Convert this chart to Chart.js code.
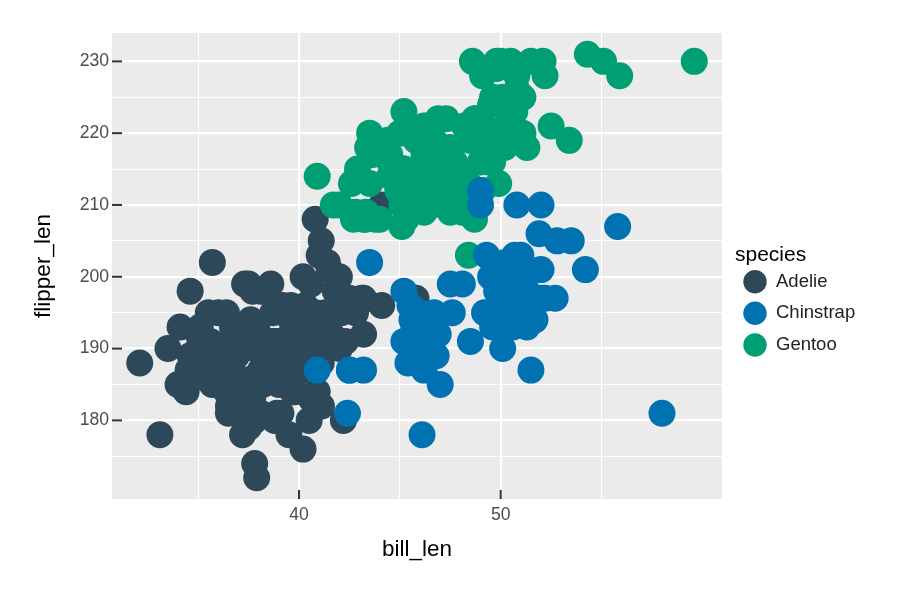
<!DOCTYPE html>
<html><head><meta charset="utf-8">
<script src="https://cdn.jsdelivr.net/npm/chart.js@4.4.1/dist/chart.umd.min.js"></script>
<style>html,body{margin:0;padding:0;background:#fff}</style>
</head><body>
<canvas id="c" width="900" height="600"></canvas>
<script>
const speciesNames = ['Adelie', 'Chinstrap', 'Gentoo'];
const speciesColors = ['#2d4858', '#0072b2', '#009e73'];

const adelieBill = [39.1,39.5,40.3,36.7,39.3,38.9,39.2,34.1,42,37.8,37.8,41.1,38.6,34.6,36.6,38.7,42.5,34.4,46,37.8,37.7,35.9,38.2,38.8,35.3,40.6,40.5,37.9,40.5,39.5,37.2,39.5,40.9,36.4,39.2,38.8,42.2,37.6,39.8,36.5,40.8,36,44.1,37,39.6,41.1,37.5,36,42.3,39.6,40.1,35,42,34.5,41.4,39,40.6,36.5,37.6,35.7,41.3,37.6,41.1,36.4,41.6,35.5,41.1,35.9,41.8,33.5,39.7,39.6,45.8,35.5,42.8,40.9,37.2,36.2,42.1,34.6,42.9,36.7,35.1,37.3,41.3,36.3,36.9,38.3,38.9,35.7,41.1,34,39.6,36.2,40.8,38.1,40.3,33.1,43.2,35,41,37.7,37.8,37.9,39.7,38.6,38.2,38.1,43.2,38.1,45.6,39.7,42.2,39.6,42.7,38.6,37.3,35.7,41.1,36.2,37.7,40.2,41.4,35.2,40.6,38.8,41.5,39,44.1,38.5,43.1,36.8,37.5,38.1,41.1,35.6,40.2,37,39.7,40.2,40.6,32.1,40.7,37.3,39,39.2,36.6,36,37.8,36,41.5];
const adelieFlipper = [181,186,195,193,190,181,195,193,190,186,180,182,191,198,185,195,197,184,194,174,180,189,185,180,187,183,187,172,180,178,178,188,184,195,196,190,180,181,184,182,195,186,196,185,190,182,179,190,191,186,188,190,200,187,191,186,193,181,194,185,195,185,192,184,192,195,188,190,198,190,190,196,197,190,195,191,184,187,195,189,196,187,193,191,194,190,189,189,190,202,205,185,186,187,208,190,196,178,192,192,203,183,190,193,184,199,190,181,197,198,191,193,197,191,196,188,199,189,189,187,198,176,202,186,199,191,195,191,210,190,197,193,199,187,190,191,200,185,193,193,187,188,190,192,185,190,184,195,193,187,201];

const chinstrapBill = [46.5,50,51.3,45.4,52.7,45.2,46.1,51.3,46,51.3,46.6,51.7,47,52,45.9,50.5,50.3,58,46.4,49.2,42.4,48.5,43.2,50.6,46.7,52,50.5,49.5,46.4,52.8,40.9,54.2,42.5,51,49.7,47.5,47.6,52,46.9,53.5,49,46.2,50.9,45.5,50.9,50.8,50.1,49,51.5,49.8,48.1,51.4,45.7,50.7,42.5,52.2,45.2,49.3,50.2,45.6,51.9,46.8,45.7,55.8,43.5,49.6,50.8,50.2];
const chinstrapFlipper = [192,196,193,188,197,198,178,197,195,198,193,194,185,201,190,201,197,181,190,195,181,191,187,193,195,197,200,200,191,205,187,201,187,203,195,199,195,210,192,205,210,187,196,196,196,201,190,212,187,198,199,201,193,203,187,197,191,203,202,194,206,189,195,207,202,193,210,198];

const gentooBill = [46.1,50,48.7,50,47.6,46.5,45.4,46.7,43.3,46.8,40.9,49,45.5,48.4,45.8,49.3,42,49.2,46.2,48.7,50.2,45.1,46.5,46.3,42.9,46.1,44.5,47.8,48.2,50,47.3,42.8,45.1,59.6,49.1,48.4,42.6,44.4,44,48.7,42.7,49.6,45.3,49.6,50.5,43.6,45.5,50.5,44.9,45.2,46.6,48.5,45.1,50.1,46.5,45,43.8,45.5,43.2,50.4,45.3,46.2,45.7,54.3,45.8,49.8,46.2,49.5,43.5,50.7,47.7,46.4,48.2,46.5,46.4,48.6,47.5,51.1,45.2,45.2,49.1,52.5,47.4,50,44.9,50.8,43.4,51.3,47.5,52.1,47.5,52.2,45.5,49.5,44.5,50.8,49.4,46.9,48.4,51.1,48.5,55.9,47.2,49.1,47.3,46.8,41.7,53.4,43.3,48.1,50.5,49.8,43.5,51.5,46.2,55.1,44.5,48.8,47.2,46.8,50.4,45.2,49.9];
const gentooFlipper = [211,230,210,218,215,210,211,219,209,215,214,216,214,213,210,217,210,221,209,222,218,215,213,215,215,215,216,215,210,220,222,209,207,230,220,220,213,219,208,208,208,225,210,216,222,217,210,225,213,215,210,220,210,225,217,220,208,220,208,224,208,221,214,231,219,230,214,229,220,223,216,221,221,217,216,230,209,220,215,223,212,221,212,224,212,228,218,218,212,230,218,228,212,224,214,226,216,222,203,225,219,228,215,228,216,215,210,219,208,209,230,229,213,230,217,230,217,222,214,215,222,212,213];

const xLimits = [30.725, 60.975];
const yLimits = [169.05, 233.95];
const xMajorTicks = [40, 50];
const xMinorTicks = [35, 45, 55];
const yMajorTicks = [180, 190, 200, 210, 220, 230];
const yMinorTicks = [175, 185, 195, 205, 215, 225];

function pts(xs, ys) { return xs.map((v, i) => ({ x: v, y: ys[i] })); }

const FONT = "'Liberation Sans', Arial, Helvetica, sans-serif";

const panelPlugin = {
  id: 'panel',
  beforeDraw(chart) {
    const { ctx, chartArea: a } = chart;
    ctx.save();
    ctx.fillStyle = '#ebebeb';
    ctx.fillRect(a.left, a.top, a.right - a.left, a.bottom - a.top);
    ctx.restore();
  },
  afterDraw(chart) {
    const { ctx, chartArea: a } = chart;
    const xs = chart.scales.x, ys = chart.scales.y;
    ctx.save();
    ctx.strokeStyle = '#333333';
    ctx.lineWidth = 2;
    xMajorTicks.forEach(v => {
      const p = xs.getPixelForValue(v);
      ctx.beginPath(); ctx.moveTo(p, a.bottom); ctx.lineTo(p, a.bottom - 9); ctx.stroke();
    });
    yMajorTicks.forEach(v => {
      const p = ys.getPixelForValue(v);
      ctx.beginPath(); ctx.moveTo(a.left, p); ctx.lineTo(a.left + 10, p); ctx.stroke();
    });
    // legend
    ctx.fillStyle = '#000';
    ctx.font = '21px ' + FONT;
    ctx.textAlign = 'left';
    ctx.textBaseline = 'alphabetic';
    ctx.fillText('species', 735, 260.5);
    const cy = [281.7, 313.3, 345];
    ctx.font = '18.5px ' + FONT;
    speciesNames.forEach((n, i) => {
      ctx.fillStyle = speciesColors[i];
      ctx.beginPath(); ctx.arc(755, cy[i], 11.7, 0, Math.PI * 2); ctx.fill();
      ctx.fillStyle = '#222';
      ctx.fillText(n, 776, cy[i] + 5);
    });
    ctx.restore();
  }
};

function gridWidth(majors) {
  return (c) => (c.tick && majors.includes(c.tick.value)) ? 2.2 : 1.1;
}

new Chart(document.getElementById('c'), {
  type: 'scatter',
  data: {
    datasets: [
      { label: speciesNames[0], data: pts(adelieBill, adelieFlipper), backgroundColor: speciesColors[0], order: 3 },
      { label: speciesNames[2], data: pts(gentooBill, gentooFlipper), backgroundColor: speciesColors[2], order: 2 },
      { label: speciesNames[1], data: pts(chinstrapBill, chinstrapFlipper), backgroundColor: speciesColors[1], order: 1 }
    ]
  },
  options: {
    responsive: false,
    devicePixelRatio: 1,
    animation: false,
    layout: { padding: { top: 33, right: 178, bottom: 0, left: 0 } },
    elements: { point: { radius: 13.5, borderWidth: 0, hoverRadius: 13.5 } },
    plugins: { legend: { display: false }, tooltip: { enabled: false } },
    scales: {
      x: {
        type: 'linear', min: xLimits[0], max: xLimits[1],
        afterBuildTicks: (s) => { s.ticks = [...xMinorTicks, ...xMajorTicks].sort((a, b) => a - b).map(v => ({ value: v })); },
        afterFit: (s) => { s.height = 101; },
        border: { display: false },
        grid: { color: '#ffffff', lineWidth: gridWidth(xMajorTicks), drawTicks: false },
        ticks: {
          autoSkip: false, maxRotation: 0, padding: 6, color: '#4d4d4d',
          font: { family: FONT, size: 17.6 },
          callback: (v) => xMajorTicks.includes(v) ? String(v) : ''
        },
        title: { display: true, text: 'bill_len', color: '#000', font: { family: FONT, size: 22.5 }, padding: { top: 0, bottom: 36.3 } }
      },
      y: {
        type: 'linear', min: yLimits[0], max: yLimits[1],
        afterBuildTicks: (s) => { s.ticks = [...yMinorTicks, ...yMajorTicks].sort((a, b) => a - b).map(v => ({ value: v })); },
        afterFit: (s) => { s.width = 112; },
        border: { display: false },
        grid: { color: '#ffffff', lineWidth: gridWidth(yMajorTicks), drawTicks: false },
        ticks: {
          autoSkip: false, padding: 3, color: '#4d4d4d',
          font: { family: FONT, size: 17.6 },
          callback: (v) => yMajorTicks.includes(v) ? String(v) : ''
        },
        title: { display: true, text: 'flipper_len', color: '#000', font: { family: FONT, size: 22.5 }, padding: { top: 30.4, bottom: 0 } }
      }
    }
  },
  plugins: [panelPlugin]
});
</script>
</body></html>
